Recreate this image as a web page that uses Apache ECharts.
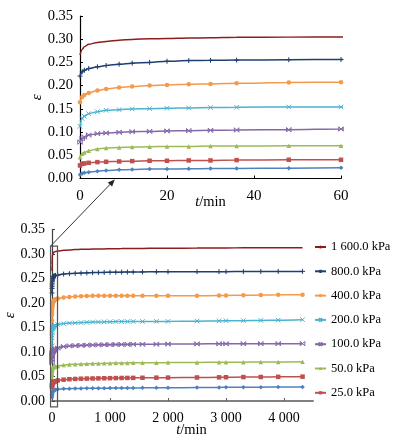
<!DOCTYPE html>
<html><head><meta charset="utf-8">
<script src="https://cdn.jsdelivr.net/npm/echarts@6/dist/echarts.min.js"></script>
<style>html,body{margin:0;padding:0;background:#fff}#c{width:397px;height:448px}</style>
</head><body><div id="c"></div>
<script>
// time points (min)
const times = [0, 0.5, 1, 2, 4, 6, 9, 12, 16, 20, 25, 30, 36, 48, 60,
  100, 200, 300, 400, 500, 600, 700, 800, 900, 1000, 1100, 1200, 1300, 1400,
  1560, 1800, 2000, 2500, 2880, 3000, 3300, 3600, 3900, 4320];

const legendNames = ['1 600.0 kPa', '800.0 kPa', '400.0 kPa', '200.0 kPa', '100.0 kPa', '50.0 kPa', '25.0 kPa'];
const hiddenName = '12.5 kPa';

const eps1600 = [0.266,0.278,0.284,0.289,0.293,0.295,0.298,0.2995,0.301,0.3015,0.3025,0.303,0.304,0.3045,0.305,
  0.306,0.3075,0.308,0.309,0.3095,0.3098,0.31,0.3102,0.3104,0.3106,0.3108,0.311,0.3111,0.3112,
  0.3114,0.3116,0.3118,0.312,0.3123,0.3124,0.3126,0.3128,0.3129,0.313];
const eps800 = [0.2205,0.2297,0.2333,0.2369,0.2405,0.2434,0.2463,0.2485,0.250,0.2525,0.254,0.2545,0.255,0.2558,0.2563,
  0.257,0.259,0.260,0.2605,0.261,0.2615,0.262,0.2622,0.2625,0.2627,0.263,0.263,0.2632,0.2633,
  0.2635,0.2637,0.2638,0.264,0.264,0.264,0.2642,0.2643,0.2644,0.2645];
const eps400 = [0.164,0.1757,0.180,0.1844,0.1894,0.193,0.1959,0.198,0.2002,0.2016,0.203,0.2038,0.2052,0.2067,0.2074,
  0.209,0.211,0.2125,0.2135,0.214,0.2143,0.2146,0.2148,0.215,0.215,0.215,0.215,0.215,0.215,
  0.215,0.215,0.215,0.2148,0.2152,0.2155,0.2158,0.2162,0.2166,0.217];
const eps200 = [0.1123,0.129,0.134,0.1397,0.144,0.1469,0.1483,0.1498,0.1505,0.1512,0.152,0.1527,0.1534,0.1541,0.1541,
  0.156,0.158,0.159,0.1595,0.160,0.1605,0.161,0.1612,0.1615,0.1617,0.162,0.162,0.1622,0.1623,
  0.1624,0.1625,0.1625,0.163,0.1635,0.1638,0.164,0.1645,0.165,0.166];
const eps100 = [0.0785,0.0857,0.0893,0.0936,0.0965,0.098,0.0994,0.1008,0.1015,0.1023,0.103,0.1037,0.1044,0.1051,0.1066,
  0.108,0.111,0.1125,0.113,0.1135,0.114,0.1143,0.1146,0.1148,0.115,0.1152,0.1154,0.1155,0.1157,
  0.1158,0.116,0.1162,0.1165,0.1167,0.1167,0.1168,0.1169,0.117,0.117];
const eps50 = [0.046,0.0533,0.0562,0.0598,0.0634,0.0655,0.067,0.0677,0.0684,0.0691,0.0691,0.0699,0.0699,0.0706,0.0706,
  0.0715,0.0735,0.0745,0.075,0.0755,0.076,0.0763,0.0766,0.0769,0.0772,0.0774,0.0776,0.0778,0.0779,
  0.078,0.0782,0.0784,0.0788,0.079,0.0791,0.0793,0.0795,0.0797,0.080];
const eps25 = [0.0281,0.0317,0.0324,0.0338,0.0353,0.036,0.0367,0.0374,0.0382,0.0382,0.0389,0.0389,0.0396,0.0403,0.0403,
  0.042,0.0435,0.0445,0.045,0.0455,0.0458,0.046,0.0462,0.0464,0.0466,0.0468,0.047,0.0471,0.0472,
  0.0474,0.0476,0.0477,0.048,0.0483,0.0485,0.0488,0.049,0.0493,0.0497];
const eps12 = [0.0079,0.0108,0.0122,0.0137,0.0158,0.0173,0.0187,0.0194,0.0202,0.0202,0.0209,0.0216,0.0216,0.0223,0.023,
  0.024,0.0248,0.0252,0.0255,0.0257,0.0259,0.026,0.0261,0.0262,0.0263,0.0264,0.0265,0.0266,0.0267,
  0.0268,0.0269,0.027,0.0275,0.0278,0.0279,0.0281,0.0283,0.0284,0.0286];

const seriesDefs = [
  {name: legendNames[0], vals: eps1600, color: '#8c1d1d', symbol: 'none', size: 0, stroke: false},
  {name: legendNames[1], vals: eps800, color: '#1f3f70', symbol: 'path://M5,0 L5,10 M0,5 L10,5', size: 5, stroke: true},
  {name: legendNames[2], vals: eps400, color: '#f39a4b', symbol: 'circle', size: 4.5, stroke: false},
  {name: legendNames[3], vals: eps200, color: '#4bb3cf', symbol: 'path://M0,0 L10,10 M10,0 L0,10', size: 4.5, stroke: true},
  {name: legendNames[4], vals: eps100, color: '#8468a8', symbol: 'path://M0,0 L10,10 M10,0 L0,10 M0,0 L0,10 M10,0 L10,10', size: 4.5, stroke: true},
  {name: legendNames[5], vals: eps50, color: '#9bbb59', symbol: 'triangle', size: 4.5, stroke: false},
  {name: legendNames[6], vals: eps25, color: '#c0504d', symbol: 'rect', size: 4.5, stroke: false},
  {name: hiddenName, vals: eps12, color: '#4f81bd', symbol: 'diamond', size: 4.5, stroke: false}
];

const FONT = 'Liberation Serif';
const chart = echarts.init(document.getElementById('c'), null, {renderer: 'canvas'});

const series = [];
[0, 1].forEach(gi => {
  seriesDefs.forEach(d => {
    series.push({
      type: 'line', name: d.name, xAxisIndex: gi, yAxisIndex: gi,
      data: times.map((t, i) => [t, d.vals[i]]),
      smooth: 0.3, smoothMonotone: 'x', clip: true,
      symbol: d.symbol, symbolSize: d.size, showSymbol: d.symbol !== 'none',
      lineStyle: {color: d.color, width: 1.5},
      itemStyle: {color: d.color, borderColor: d.color, borderWidth: d.stroke ? 1 : 0},
      emphasis: {disabled: true}, animation: false, z: 3
    });
  });
});

function yAxis(gi, axisColor, gap) {
  return {
    type: 'value', gridIndex: gi, min: 0, max: 0.35, interval: 0.05,
    name: 'ε', nameLocation: 'middle', nameGap: gap, nameRotate: 90, nameMoveOverlap: false,
    nameTextStyle: {fontFamily: FONT, fontStyle: 'italic', fontSize: 15, color: '#000'},
    axisLine: {show: true, lineStyle: {color: axisColor, width: 1.2}},
    axisTick: {show: true, inside: true, length: 3, lineStyle: {color: axisColor}},
    axisLabel: {fontFamily: FONT, fontSize: gi === 0 ? 14.5 : 14, color: '#000', margin: 7,
      formatter: v => v.toFixed(2)},
    splitLine: {show: false}
  };
}

const option = {
  backgroundColor: '#fff',
  animation: false,
  textStyle: {fontFamily: FONT},
  grid: [
    {left: 80, top: 16, width: 261, height: 162.5, containLabel: false, outerBoundsMode: 'none'},
    {left: 52, top: 229.5, width: 261, height: 171.5, containLabel: false, outerBoundsMode: 'none'}
  ],
  xAxis: [
    {type: 'value', gridIndex: 0, min: 0, max: 60, interval: 20,
     name: '{t|t}/min', nameLocation: 'middle', nameGap: 16, nameMoveOverlap: false,
     nameTextStyle: {fontFamily: FONT, fontSize: 14.5, color: '#000', rich: {t: {fontFamily: FONT, fontStyle: 'italic', fontSize: 14.5, color: '#000'}}},
     axisLine: {show: true, onZero: false, lineStyle: {color: '#000', width: 1.2}},
     axisTick: {show: true, inside: true, length: 3, lineStyle: {color: '#000'}},
     axisLabel: {fontFamily: FONT, fontSize: 15, color: '#000', margin: 10},
     splitLine: {show: false}},
    {type: 'value', gridIndex: 1, min: 0, max: 4500, interval: 1000,
     name: '{t|t}/min', nameLocation: 'middle', nameGap: 22, nameMoveOverlap: false,
     nameTextStyle: {fontFamily: FONT, fontSize: 14.5, color: '#000', padding: [0, 0, 0, 18], rich: {t: {fontFamily: FONT, fontStyle: 'italic', fontSize: 14.5, color: '#000'}}},
     axisLine: {show: true, onZero: false, lineStyle: {color: '#808080', width: 2}},
     axisTick: {show: true, inside: true, length: 3, lineStyle: {color: '#606060'}},
     axisLabel: {fontFamily: FONT, fontSize: 14, color: '#000', margin: 10, showMaxLabel: false,
       formatter: v => v >= 1000 ? Math.floor(v / 1000) + ' ' + String(v % 1000).padStart(3, '0') : String(v)},
     splitLine: {show: false}}
  ],
  yAxis: [yAxis(0, '#000', 35), yAxis(1, '#404040', 34)],
  legend: {
    data: legendNames, orient: 'vertical', left: 309, top: 235,
    itemWidth: 11, itemHeight: 4, itemGap: 10.3,
    textStyle: {fontFamily: FONT, fontSize: 12.5, color: '#000', lineHeight: 14},
    selectedMode: false
  },
  series: series
};
chart.setOption(option);

// zoom box and arrow annotation
const p0 = chart.convertToPixel({gridIndex: 1}, [-25, 0.316]);
const p1 = chart.convertToPixel({gridIndex: 1}, [95, -0.012]);
const a = chart.convertToPixel({gridIndex: 0}, [8, -0.002]);
const dx = a[0] - p0[0], dy = a[1] - p0[1];
const L = Math.sqrt(dx * dx + dy * dy);
const ux = dx / L, uy = dy / L, nx = -uy, ny = ux;
const hl = 7, hw = 3;
chart.setOption({
  graphic: [
    {type: 'rect', shape: {x: p0[0], y: p0[1], width: p1[0] - p0[0], height: p1[1] - p0[1]},
     style: {fill: 'none', stroke: '#555', lineWidth: 1.2}, z: 10},
    {type: 'line', shape: {x1: p0[0], y1: p0[1], x2: a[0] - ux * hl * 0.8, y2: a[1] - uy * hl * 0.8},
     style: {stroke: '#333', lineWidth: 1}, z: 10},
    {type: 'polygon', shape: {points: [
      [a[0], a[1]],
      [a[0] - ux * hl + nx * hw, a[1] - uy * hl + ny * hw],
      [a[0] - ux * hl - nx * hw, a[1] - uy * hl - ny * hw]]},
     style: {fill: '#222'}, z: 10}
  ]
});
</script></body></html>
